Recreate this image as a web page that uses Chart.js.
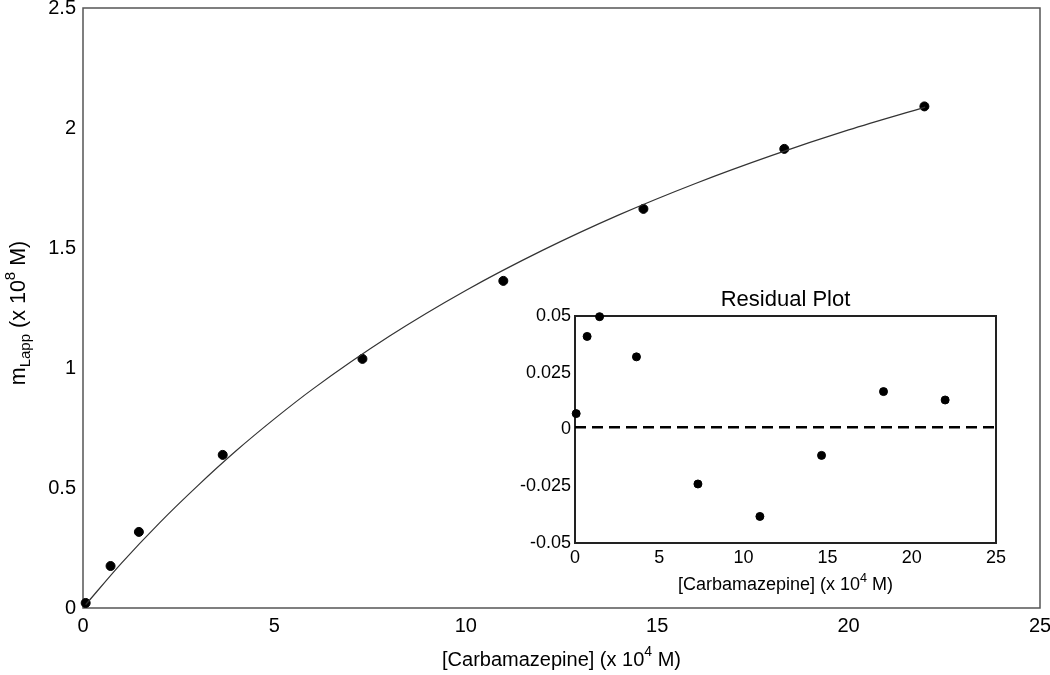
<!DOCTYPE html>
<html><head><meta charset="utf-8">
<script src="https://cdn.jsdelivr.net/npm/chart.js@4/dist/chart.umd.min.js"></script>
<style>
html,body{margin:0;padding:0;background:#fff;}
#wrap{position:relative;width:1050px;height:675px;overflow:hidden;}
#main{position:absolute;left:0;top:0;}
#inset{position:absolute;left:490px;top:280px;}
</style></head><body>
<div id="wrap"><canvas id="main" width="1050" height="675"></canvas><canvas id="inset" width="540" height="330"></canvas></div>
<script>
// ---- data ----
const concX = [0.07, 0.72, 1.46, 3.65, 7.30, 10.98, 14.64, 18.32, 21.98];
const mLapp = [0.021, 0.175, 0.317, 0.638, 1.038, 1.363, 1.663, 1.913, 2.09];
const fitX = [0.07, 1, 2, 3, 4, 5, 6, 8, 10, 12, 14, 16, 18, 20, 22];
const fitY = [0.014, 0.186, 0.355, 0.510, 0.655, 0.788, 0.912, 1.132, 1.323, 1.490, 1.638, 1.769, 1.886, 1.992, 2.087];
const residY = [0.007, 0.041, 0.0497, 0.032, -0.024, -0.0383, -0.0114, 0.0167, 0.013];
const zeroLineX = [0, 25.2];
const zeroLineY = [0.001, 0.001];
const mainXTicks = ['0', '5', '10', '15', '20', '25'];
const mainYTicks = ['0', '0.5', '1', '1.5', '2', '2.5'];
const insetXTicks = ['0', '5', '10', '15', '20', '25'];
const insetYTicks = ['-0.05', '-0.025', '0', '0.025', '0.05'];

const FONT = '"Liberation Sans", Arial, sans-serif';

function fixedTicks(labels) {
  return {
    afterBuildTicks: s => { s.ticks = labels.map(l => ({ value: parseFloat(l) })); },
    cb: (v, i) => labels[i]
  };
}

function drawRich(ctx, parts, size, cx, cy, rot) {
  ctx.save();
  ctx.translate(cx, cy);
  if (rot) ctx.rotate(rot);
  ctx.fillStyle = '#000';
  ctx.textBaseline = 'middle';
  ctx.textAlign = 'left';
  let w = 0;
  const meas = parts.map(p => {
    const fs = p.s === 'n' ? size : size * 0.7;
    ctx.font = fs + 'px ' + FONT;
    const mw = ctx.measureText(p.t).width;
    w += mw;
    return { fs, mw };
  });
  let x = -w / 2;
  parts.forEach((p, i) => {
    ctx.font = meas[i].fs + 'px ' + FONT;
    let dy = 0;
    if (p.s === 'sub') dy = size * 0.3;
    if (p.s === 'sup') dy = -size * 0.38;
    ctx.fillText(p.t, x, dy);
    x += meas[i].mw;
  });
  ctx.restore();
}

const xTitleParts = [{ t: '[Carbamazepine] (x 10', s: 'n' }, { t: '4', s: 'sup' }, { t: ' M)', s: 'n' }];
const yTitleParts = [{ t: 'm', s: 'n' }, { t: 'Lapp', s: 'sub' }, { t: ' (x 10', s: 'n' }, { t: '8', s: 'sup' }, { t: ' M)', s: 'n' }];

// ---- main chart ----
const mxT = fixedTicks(mainXTicks), myT = fixedTicks(mainYTicks);
new Chart(document.getElementById('main'), {
  type: 'scatter',
  data: {
    datasets: [
      {
        type: 'line',
        data: fitX.map((x, i) => ({ x, y: fitY[i] })),
        borderColor: '#333', borderWidth: 1.2, pointRadius: 0,
        cubicInterpolationMode: 'monotone', fill: false, clip: false
      },
      {
        data: concX.map((x, i) => ({ x, y: mLapp[i] })),
        backgroundColor: '#000', borderColor: '#000', pointRadius: 4.5, clip: false
      }
    ]
  },
  options: {
    responsive: false, animation: false, events: [],
    layout: { padding: { left: 0, top: 8, right: 10, bottom: 0 } },
    plugins: { legend: { display: false }, tooltip: { enabled: false } },
    scales: {
      x: {
        type: 'linear', min: 0, max: 25,
        grid: { display: false, drawTicks: false }, border: { display: false },
        afterBuildTicks: mxT.afterBuildTicks,
        ticks: { callback: mxT.cb, color: '#000', font: { family: FONT, size: 20 }, padding: 6, maxRotation: 0 },
        afterFit: s => { s.height = 67; s.paddingLeft = 0; s.paddingRight = 0; }
      },
      y: {
        type: 'linear', min: 0, max: 2.5,
        grid: { display: false, drawTicks: false }, border: { display: false },
        afterBuildTicks: myT.afterBuildTicks,
        ticks: { callback: myT.cb, color: '#000', font: { family: FONT, size: 20 }, padding: 7 },
        afterFit: s => { s.width = 83; s.paddingTop = 0; s.paddingBottom = 0; }
      }
    }
  },
  plugins: [{
    id: 'frame',
    beforeDatasetsDraw(chart) {
      const { ctx, chartArea: a } = chart;
      ctx.save();
      ctx.strokeStyle = '#555'; ctx.lineWidth = 1.5;
      ctx.strokeRect(a.left, a.top, a.right - a.left, a.bottom - a.top);
      ctx.restore();
    },
    afterDraw(chart) {
      const { ctx, chartArea: a } = chart;
      drawRich(ctx, xTitleParts, 20, (a.left + a.right) / 2, 660, 0);
      drawRich(ctx, yTitleParts, 21.5, 19, 313, -Math.PI / 2);
    }
  }]
});

// ---- inset residual chart ----
const ixT = fixedTicks(insetXTicks), iyT = fixedTicks(insetYTicks);
new Chart(document.getElementById('inset'), {
  type: 'scatter',
  data: {
    datasets: [
      {
        type: 'line',
        data: zeroLineX.map((x, i) => ({ x, y: zeroLineY[i] })),
        borderColor: '#000', borderWidth: 2.6, borderDash: [11, 6], pointRadius: 0, clip: false
      },
      {
        data: concX.map((x, i) => ({ x, y: residY[i] })),
        backgroundColor: '#000', borderColor: '#000', pointRadius: 4, clip: false
      }
    ]
  },
  options: {
    responsive: false, animation: false, events: [],
    layout: { padding: { left: 0, top: 36, right: 34, bottom: 0 } },
    plugins: { legend: { display: false }, tooltip: { enabled: false } },
    scales: {
      x: {
        type: 'linear', min: 0, max: 25,
        grid: { display: false, drawTicks: false }, border: { display: false },
        afterBuildTicks: ixT.afterBuildTicks,
        ticks: { callback: ixT.cb, color: '#000', font: { family: FONT, size: 18 }, padding: 4, maxRotation: 0 },
        afterFit: s => { s.height = 67; s.paddingLeft = 0; s.paddingRight = 0; }
      },
      y: {
        type: 'linear', min: -0.05, max: 0.05,
        grid: { display: false, drawTicks: false }, border: { display: false },
        afterBuildTicks: iyT.afterBuildTicks,
        ticks: { callback: iyT.cb, color: '#000', font: { family: FONT, size: 18 }, padding: 4 },
        afterFit: s => { s.width = 85; s.paddingTop = 0; s.paddingBottom = 0; }
      }
    }
  },
  plugins: [{
    id: 'frame2',
    beforeDraw(chart) {
      const { ctx, chartArea: a } = chart;
      ctx.save();
      ctx.fillStyle = '#fff';
      ctx.fillRect(a.left, a.top, a.right - a.left, a.bottom - a.top);
      ctx.restore();
    },
    beforeDatasetsDraw(chart) {
      const { ctx, chartArea: a } = chart;
      ctx.save();
      ctx.strokeStyle = '#222'; ctx.lineWidth = 2;
      ctx.strokeRect(a.left, a.top, a.right - a.left, a.bottom - a.top);
      ctx.restore();
    },
    afterDraw(chart) {
      const { ctx, chartArea: a } = chart;
      drawRich(ctx, [{ t: 'Residual Plot', s: 'n' }], 22, (a.left + a.right) / 2, 20, 0);
      drawRich(ctx, xTitleParts, 18, (a.left + a.right) / 2, 305, 0);
    }
  }]
});
</script>
</body></html>
